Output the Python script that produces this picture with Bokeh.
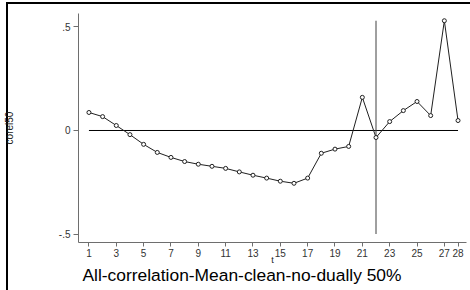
from bokeh.plotting import figure
from bokeh.models import Range1d, FixedTicker, Title
from bokeh.embed import file_html
from bokeh.resources import INLINE

t = list(range(1, 29))
corel50 = [0.087, 0.067, 0.024, -0.020, -0.067, -0.106, -0.130, -0.150, -0.163, -0.173,
           -0.183, -0.200, -0.216, -0.230, -0.245, -0.255, -0.230, -0.110, -0.090, -0.077,
           0.160, -0.034, 0.043, 0.096, 0.140, 0.072, 0.530, 0.048]
x_ticks = [1, 3, 5, 7, 9, 11, 13, 15, 17, 19, 21, 23, 25, 27, 28]
y_ticks = [-0.5, 0, 0.5]
y_tick_labels = {-0.5: "-.5", 0: "0", 0.5: ".5"}
ref_t = 22
caption = "All-correlation-Mean-clean-no-dually 50%"

FONT = "Liberation Sans"

p = figure(width=470, height=290, output_backend="svg", toolbar_location=None,
           x_range=Range1d(0.236, 28.62), y_range=Range1d(-0.541, 0.565),
           min_border_left=76, min_border_right=4, min_border_top=13, min_border_bottom=48,
           title_location=None)
p.outline_line_color = None
p.grid.visible = False
p.background_fill_color = "white"
p.border_fill_color = None
# outer graph frame (left and top edges), drawn behind the transparent border area
p.styles = {"box-shadow": "inset 6px 2px 0 0 white, inset 8px 4px 0 0 black",
            "background-color": "white"}

for ax in (p.xaxis[0], p.yaxis[0]):
    ax.axis_line_color = "#6e6e6e"
    ax.major_tick_line_color = "#6e6e6e"
    ax.minor_tick_line_color = None
    ax.major_tick_in = 0
    ax.major_label_text_font = FONT
    ax.major_label_text_font_size = "10px"
    ax.major_label_text_color = "#333333"
    ax.axis_label_text_font = FONT
    ax.axis_label_text_font_style = "normal"
    ax.axis_label_text_color = "#222222"

p.xaxis.ticker = FixedTicker(ticks=x_ticks)
p.xaxis.major_tick_out = 4
p.xaxis.major_label_standoff = 2
p.xaxis.axis_label = "t"
p.xaxis.axis_label_text_font_size = "9px"
p.xaxis.axis_label_standoff = -5

p.yaxis.ticker = FixedTicker(ticks=y_ticks)
p.yaxis.major_label_overrides = y_tick_labels
p.yaxis.major_tick_out = 5
p.yaxis.major_label_standoff = 3
p.yaxis.axis_label = "corel50"
p.yaxis.axis_label_text_font_size = "10px"
p.yaxis.axis_label_standoff = 41

p.add_layout(Title(text=caption, align="left", offset=4, standoff=-9,
                   text_font=FONT, text_font_size="17.4px", text_font_style="normal",
                   text_color="black"), "below")

# reference lines
p.line([t[0], t[-1]], [0, 0], line_color="black", line_width=1)
p.line([ref_t, ref_t], [-0.5, max(corel50)], line_color="#404040", line_width=1)

# data
p.line(t, corel50, line_color="#202020", line_width=1)
p.scatter(t, corel50, size=4, marker="circle", line_color="#202020", fill_color="white", line_width=1)

open("out.html", "w").write(file_html(p, INLINE))
